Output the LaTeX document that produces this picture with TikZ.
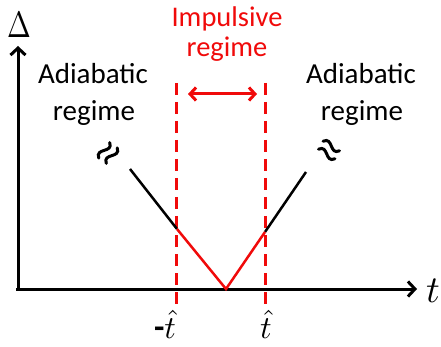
\documentclass[tikz,border=0pt]{standalone}
\usepackage{fontspec}
\setmainfont{Carlito}
\usetikzlibrary{arrows.meta}
\definecolor{imred}{RGB}{240,10,10}
\tikzset{
  axisline/.style={line width=3pt, -{Straight Barb[length=7pt,width=15pt,line width=3pt]}},
  blackseg/.style={line width=2.5pt, black},
  redseg/.style={line width=2.5pt, imred},
  reddash/.style={line width=3pt, imred, dash pattern=on 12pt off 7pt},
  redarrow/.style={line width=3pt, imred, {Straight Barb[length=6pt,width=13pt,line width=3pt]}-{Straight Barb[length=6pt,width=13pt,line width=3pt]}},
  adia/.style={inner sep=0pt, anchor=base, font=\fontsize{29}{34}\selectfont},
  imp/.style={inner sep=0pt, anchor=base, text=imred, font=\fontsize{28.5}{33}\selectfont},
  squig/.style={line width=3pt, line cap=round},
  mathlab/.style={inner sep=0pt, anchor=base},
}
\newcommand\mysquiggle[3]{%
  \begin{scope}[shift={(#1,#2)},rotate=#3]
    \draw[squig] (-9.5,-4.6) .. controls (-3,-14) and (3,4.8) .. (9.5,-4.6);
    \draw[squig] (-9.5,4.6) .. controls (-3,-4.8) and (3,14) .. (9.5,4.6);
  \end{scope}}
\begin{document}
\begin{tikzpicture}[x=1pt,y=-1pt]
  \useasboundingbox (0,0) rectangle (441,347);
  % axes
  \coordinate (O) at (18,289);
  \coordinate (ytip) at (18,46);
  \coordinate (xorig) at (16,289);
  \coordinate (xtip) at (417,289);
  \draw[axisline] (O) -- (ytip);
  \draw[axisline] (xorig) -- (xtip);
  \node[mathlab] (delta) at (19,38) {\scalebox{2.85}[3.66]{$\Delta$}};
  \node[mathlab] (tlab) at (433,302) {\scalebox{3.8}{$t$}};
  % dashed lines
  \coordinate (dl1) at (176,83);
  \coordinate (dl2) at (176,306);
  \coordinate (dr1) at (265,83);
  \coordinate (dr2) at (265,306);
  \draw[reddash] (dl1) -- (dl2);
  \draw[reddash] (dr1) -- (dr2);
  % double arrow
  \coordinate (a1) at (188,94);
  \coordinate (a2) at (257,94);
  \draw[redarrow] (a1) -- (a2);
  % curve
  \coordinate (L1) at (130,169);
  \coordinate (L2) at (177,229);
  \coordinate (V) at (226,289);
  \coordinate (R2) at (265,232);
  \coordinate (R1) at (306,172);
  \draw[blackseg] (L1) -- (L2);
  \draw[blackseg] (R2) -- (R1);
  \draw[redseg, line join=miter] (L2) -- (V) -- (R2);
  % squiggles
  \mysquiggle{108}{153}{55}
  \mysquiggle{329}{150}{-30}
  % texts
  \node[adia] (la1) at (93,84) {Adiabatic};
  \node[adia] (la2) at (94,121) {regime};
  \node[adia] (ra1) at (361,84) {Adiabatic};
  \node[adia] (ra2) at (362,121) {regime};
  \node[imp] (i1) at (227,27) {Impulsive};
  \node[imp] (i2) at (227,57) {regime};
  % tick labels
  \node[mathlab] (tm) at (165,338) {{\fontsize{34}{36}\selectfont\bfseries -}\scalebox{3.2}{$\hat{t}$}};
  \node[mathlab] (tp) at (266,338) {\scalebox{3.2}{$\hat{t}$}};
\end{tikzpicture}
\end{document}
